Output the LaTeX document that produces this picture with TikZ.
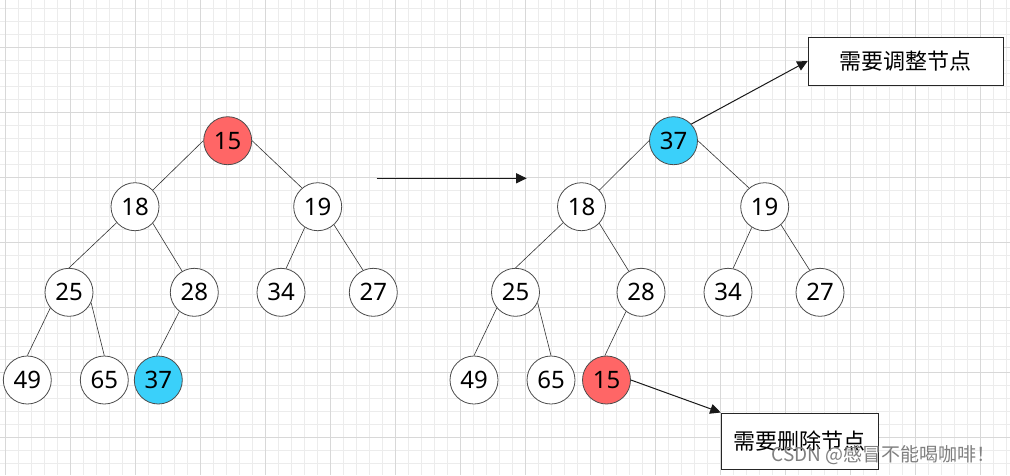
\documentclass[tikz,border=0pt]{standalone}
\usepackage{fontspec}
\setmainfont{Noto Sans}
\newfontfamily\cjk{Noto Sans CJK SC}
\usetikzlibrary{arrows.meta}
\definecolor{hotred}{RGB}{255,102,102}
\definecolor{skyblue}{RGB}{58,208,250}
\definecolor{minorgrid}{RGB}{236,236,236}
\definecolor{majorgrid}{RGB}{216,216,216}
\begin{document}
\begin{tikzpicture}[x=1pt,y=-1pt,
 heapnode/.style={circle,draw=black!70,line width=0.8pt,minimum size=48pt,inner sep=0pt,fill=white,font=\fontsize{24}{24}\selectfont},
 rednode/.style={heapnode,fill=hotred},
 bluenode/.style={heapnode,fill=skyblue},
 treeedge/.style={draw=black!80,line width=0.6pt},
 pointer/.style={draw=black!90,line width=1pt,-{Triangle[length=10.5pt,width=10pt]}},
 labelbox/.style={rectangle,draw=black!85,line width=1pt,fill=white,inner sep=0pt,font=\cjk\fontsize{22}{22}\selectfont}]
\useasboundingbox (0,0) rectangle (1010,475);
\fill[white] (0,0) rectangle (1010,475);
% grid
\foreach \i in {0,...,77} \draw[minorgrid,line width=0.8pt] ({5+13*\i},0) -- ({5+13*\i},475);
\foreach \j in {0,...,35} \draw[minorgrid,line width=0.8pt] (0,{8.7+13*\j}) -- (1010,{8.7+13*\j});
\foreach \i in {0,...,15} \draw[majorgrid,line width=0.8pt] ({5+65*\i},0) -- ({5+65*\i},475);
\foreach \j in {0,...,6} \draw[majorgrid,line width=0.8pt] (0,{47.7+65*\j}) -- (1010,{47.7+65*\j});

% left tree
\node[rednode]  (L15) at (227.7,140.7) {15};
\node[heapnode] (L18) at (135,206.7) {18};
\node[heapnode] (L19) at (317.7,206.7) {19};
\node[heapnode] (L25) at (69,292.3) {25};
\node[heapnode] (L28) at (194.3,292.3) {28};
\node[heapnode] (L34) at (281,292.3) {34};
\node[heapnode] (L27) at (373.3,292.3) {27};
\node[heapnode] (L49) at (27.3,380) {49};
\node[heapnode] (L65) at (104.3,380) {65};
\node[bluenode] (L37) at (158.3,380) {37};

\draw[treeedge] (L15.west) -- (L18.43);
\draw[treeedge] (L15.east) -- (L19.130);
\draw[treeedge] (L18.221) -- (L25.north);
\draw[treeedge] (L18.-43) -- (L28.120);
\draw[treeedge] (L19.-122) -- (L34.78);
\draw[treeedge] (L19.-48) -- (L27.115);
\draw[treeedge] (L25.-140) -- (L49.north);
\draw[treeedge] (L25.-25) -- (L65.north);
\draw[treeedge] (L28.-128) -- (L37.94);

% middle arrow
\coordinate (mstart) at (376.7,178.3);
\coordinate (mend) at (526.7,178.3);
\draw[pointer] (mstart) -- (mend);

% right tree
\node[bluenode] (R37) at (673.5,140.7) {37};
\node[heapnode] (R18) at (581.5,206.7) {18};
\node[heapnode] (R19) at (764.7,206.7) {19};
\node[heapnode] (R25) at (515.5,292.3) {25};
\node[heapnode] (R28) at (641,292.3) {28};
\node[heapnode] (R34) at (728,292.3) {34};
\node[heapnode] (R27) at (820,292.3) {27};
\node[heapnode] (R49) at (474,380) {49};
\node[heapnode] (R65) at (551,380) {65};
\node[rednode]  (R15) at (606.5,380) {15};

\draw[treeedge] (R37.west) -- (R18.43);
\draw[treeedge] (R37.east) -- (R19.130);
\draw[treeedge] (R18.221) -- (R25.north);
\draw[treeedge] (R18.-43) -- (R28.120);
\draw[treeedge] (R19.-122) -- (R34.78);
\draw[treeedge] (R19.-48) -- (R27.115);
\draw[treeedge] (R25.-140) -- (R49.north);
\draw[treeedge] (R25.-25) -- (R65.north);
\draw[treeedge] (R28.-128) -- (R15.94);

% label boxes
\node[labelbox,minimum width=195pt,minimum height=48pt] (adj) at (905.7,61) {需要调整节点};
\node[labelbox,minimum width=157pt,minimum height=56pt] (del) at (799.7,441) {需要删除节点};

\draw[pointer] (R37.43) -- (adj.west);
\draw[pointer] (R15.east) -- (del.north west);

% watermark
\node[text=black!50,font=\cjk\fontsize{19}{19}\selectfont,inner sep=0pt] (wm) at (883.5,455) {CSDN @感冒不能喝咖啡！};
\end{tikzpicture}
\end{document}
